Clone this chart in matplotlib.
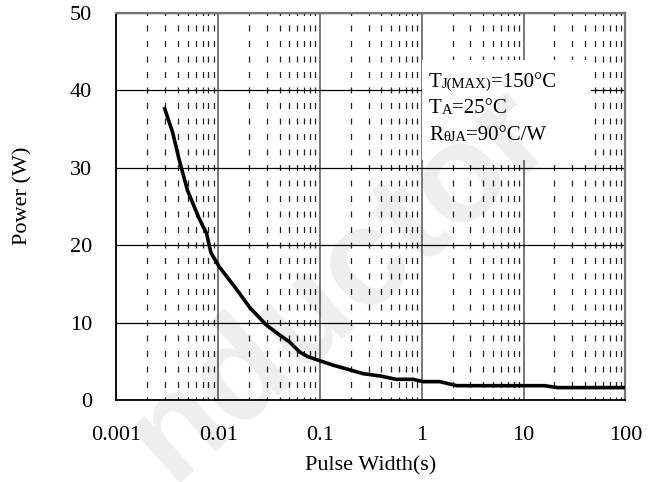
import numpy as np
import matplotlib
matplotlib.use('Agg')
import matplotlib.pyplot as plt
from matplotlib.ticker import LogLocator, NullFormatter
from matplotlib.patches import Rectangle
from matplotlib.transforms import IdentityTransform

plt.rcParams['font.family'] = 'Liberation Serif'
plt.rcParams['lines.scale_dashes'] = False

# curve
pulse_width = [0.00294, 0.00355, 0.00413, 0.005, 0.0065, 0.00767, 0.00848, 0.0102,
               0.0149, 0.0202, 0.0295, 0.0399, 0.05, 0.063, 0.0758, 0.134, 0.195,
               0.264, 0.39, 0.56, 0.82, 1.03, 1.5, 2.2, 16, 21.5, 100]
power = [37.8, 34.6, 31.0, 27.0, 23.4, 21.5, 19.0, 17.2,
         14.4, 12.0, 9.7, 8.4, 7.5, 6.2, 5.6, 4.5, 3.9,
         3.4, 3.1, 2.67, 2.67, 2.37, 2.37, 1.85, 1.85, 1.6, 1.6]

xticks = [0.001, 0.01, 0.1, 1, 10, 100]
xtick_labels = ['0.001', '0.01', '0.1', '1', '10', '100']
yticks = [0, 10, 20, 30, 40, 50]

fig = plt.figure(figsize=(6.58, 4.82), dpi=100)
ax = fig.add_axes([0.177, 0.1701, 0.7736, 0.8039])

ax.plot(pulse_width, power, color='black', lw=2.6, zorder=4,
        solid_capstyle='butt', solid_joinstyle='round')

ax.set_xscale('log')
ax.set_xlim(1e-3, 1e2)
ax.set_ylim(0, 50)
ax.set_xticks(xticks, labels=xtick_labels)
ax.set_yticks(yticks)
ax.xaxis.set_minor_locator(LogLocator(base=10, subs=np.arange(2, 10)))
ax.xaxis.set_minor_formatter(NullFormatter())
ax.tick_params(which='both', length=0, labelsize=16)
ax.tick_params(axis='x', pad=18.5)
ax.tick_params(axis='y', pad=17.5)

ax.set_axisbelow(True)
ax.grid(which='major', axis='x', color='#555555', lw=1.1, ls='-')
ax.grid(which='minor', axis='x', color='#222222', lw=0.9, ls=(2.16, (4.32, 6.84)))
ax.grid(which='major', axis='y', color='black', lw=0.9, ls='-')

for side in ['left', 'bottom']:
    ax.spines[side].set_color('black')
    ax.spines[side].set_linewidth(1.3)
for side in ['top', 'right']:
    ax.spines[side].set_color('#777777')
    ax.spines[side].set_linewidth(1.6)

ax.text(0.5, -0.170, 'Pulse Width(s)', transform=ax.transAxes,
        ha='center', va='center', fontsize=16)
ax.text(-0.184, 0.526, 'Power (W)', transform=ax.transAxes,
        rotation=90, ha='center', va='center', fontsize=16)

# white note box
ax.add_patch(Rectangle((0.601, 0.619), 0.331, 0.258, transform=ax.transAxes,
                       facecolor='white', edgecolor='none', zorder=3))

# faint watermark, only its visible part
fig.text(0.8465, 0.7116, 'nductor', family='Liberation Sans', fontweight='bold',
         fontsize=100, color='black', alpha=0.07, rotation=41.7,
         rotation_mode='anchor', ha='right', va='baseline', zorder=3.5)

fig.canvas.draw()
renderer = fig.canvas.get_renderer()


def note_line(x, y, parts):
    xd, yd = ax.transAxes.transform((x, y))
    for s, size, dy in parts:
        t = ax.text(xd, yd + dy, s, transform=IdentityTransform(), fontsize=size,
                    ha='left', va='baseline', zorder=5)
        xd = t.get_window_extent(renderer=renderer).x1


note_line(0.614, 0.809, [('T', 15, 0), ('J(MAX)', 10.5, -1), ('=150°C', 15, 0)])
note_line(0.614, 0.740, [('T', 15, 0), ('A', 10.5, -1), ('=25°C', 15, 0)])
note_line(0.614, 0.671, [('R', 15, 0), ('θJA', 10.5, -1), ('=90°C/W', 15, 0)])

fig.savefig('out.png', dpi=100)
